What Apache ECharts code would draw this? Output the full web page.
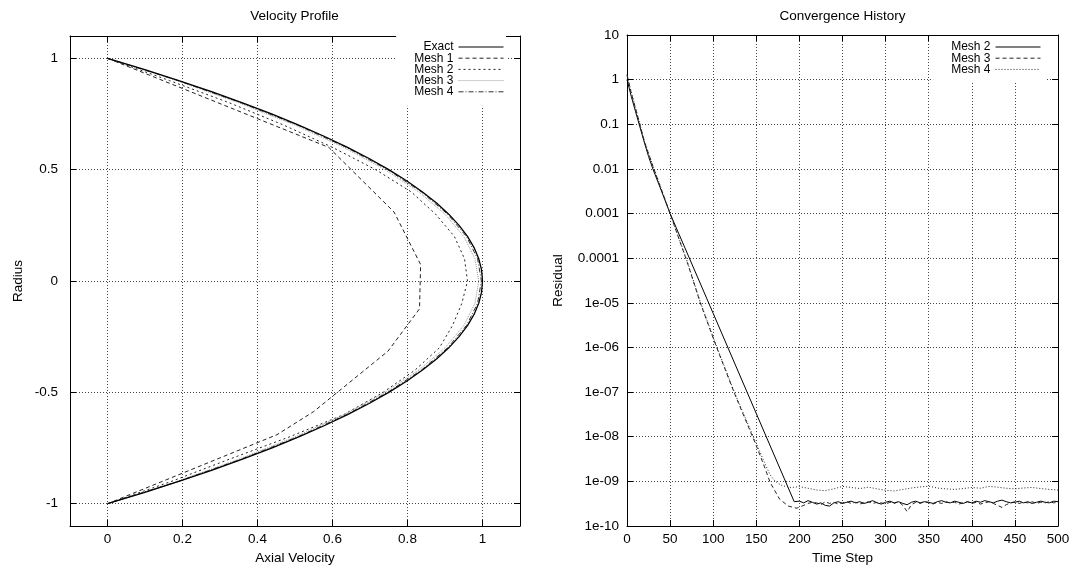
<!DOCTYPE html>
<html>
<head>
<meta charset="utf-8">
<script src="https://cdn.jsdelivr.net/npm/echarts@6/dist/echarts.min.js"></script>
<style>html,body{margin:0;padding:0;background:#fff}#c{width:1076px;height:573px}</style>
</head>
<body>
<div id="c"></div>
<script>
// ---------- Left chart: Velocity Profile ----------
const leftXTicks = [0, 0.2, 0.4, 0.6, 0.8, 1];
const leftYTicks = [-1, -0.5, 0, 0.5, 1];

const exactR = [1,0.95,0.9,0.85,0.8,0.75,0.7,0.65,0.6,0.55,0.5,0.45,0.4,0.35,0.3,0.25,0.2,0.15,0.1,0.05,0,
  -0.05,-0.1,-0.15,-0.2,-0.25,-0.3,-0.35,-0.4,-0.45,-0.5,-0.55,-0.6,-0.65,-0.7,-0.75,-0.8,-0.85,-0.9,-0.95,-1];
const exactU = [0,0.0975,0.19,0.2775,0.36,0.4375,0.51,0.5775,0.64,0.6975,0.75,0.7975,0.84,0.8775,0.91,0.9375,0.96,0.9775,0.99,0.9975,1,
  0.9975,0.99,0.9775,0.96,0.9375,0.91,0.8775,0.84,0.7975,0.75,0.6975,0.64,0.5775,0.51,0.4375,0.36,0.2775,0.19,0.0975,0];

const mesh1R = [1, 0.6, 0.31, 0.074, -0.125, -0.315, -0.586, -0.69, -1];
const mesh1U = [0, 0.59, 0.764, 0.835, 0.832, 0.748, 0.55, 0.452, 0];

const meshR = [1,0.9,0.8,0.7,0.6,0.5,0.4,0.3,0.2,0.1,0,-0.1,-0.2,-0.3,-0.4,-0.5,-0.6,-0.7,-0.8,-0.9,-1];
const mesh2U = [0,0.165,0.325,0.47,0.6,0.715,0.81,0.875,0.925,0.952,0.96,0.945,0.92,0.885,0.82,0.735,0.63,0.485,0.325,0.17,0];
const mesh3U = [0,0.185,0.35,0.5,0.63,0.74,0.83,0.9,0.95,0.98,0.99,0.98,0.95,0.9,0.83,0.74,0.63,0.5,0.35,0.185,0];
const mesh4U = [0,0.188,0.357,0.507,0.637,0.747,0.837,0.907,0.957,0.987,0.997,0.987,0.957,0.907,0.837,0.747,0.637,0.507,0.357,0.188,0];

// ---------- Right chart: Convergence History ----------
const rightXTicks = [0,50,100,150,200,250,300,350,400,450,500];
const rightYLabels = ['1e-10','1e-09','1e-08','1e-07','1e-06','1e-05','0.0001','0.001','0.01','0.1','1','10'];

const tailSteps5 = [200,205,210,215,220,225,230,235,240,245,250,255,260,265,270,275,280,285,290,295,
  300,305,310,315,320,325,330,335,340,345,350,355,360,365,370,375,380,385,390,395,
  400,405,410,415,420,425,430,435,440,445,450,455,460,465,470,475,480,485,490,495,500];

const m2Steps = [0,5,10,15,20,25,30,40,50,100,150,194].concat(tailSteps5);
const m2Res = [1,0.42,0.19,0.087,0.04,0.019,0.01,0.0032,0.001,5.8e-6,3.3e-8,3.5e-10,
  3.6e-10,3.3e-10,3.7e-10,3.4e-10,3.1e-10,3.3e-10,2.9e-10,2.8e-10,3.3e-10,3.5e-10,
  3.2e-10,3.4e-10,3.6e-10,3.3e-10,3.5e-10,3.2e-10,3.4e-10,3.7e-10,3.3e-10,3.1e-10,
  3.4e-10,3.6e-10,3.3e-10,3.5e-10,3.2e-10,3.0e-10,3.4e-10,3.6e-10,3.3e-10,3.5e-10,
  3.4e-10,3.2e-10,3.5e-10,3.7e-10,3.4e-10,3.3e-10,3.6e-10,3.4e-10,3.2e-10,3.5e-10,
  3.3e-10,3.6e-10,3.4e-10,3.7e-10,3.5e-10,3.3e-10,3.6e-10,3.8e-10,3.5e-10,3.3e-10,
  3.4e-10,3.6e-10,3.3e-10,3.5e-10,3.2e-10,3.4e-10,3.6e-10,3.4e-10,3.3e-10,3.6e-10,3.5e-10];

const m3Steps = [0,5,10,15,20,30,40,50,60,70,85,104,125,150,160,166,177,187,197].concat(tailSteps5.slice(1));
const m3Res = [1.25,0.5,0.22,0.1,0.042,0.0115,0.0034,0.001,2.8e-4,8e-5,1e-5,1e-6,9e-8,6.3e-9,2e-9,9.5e-10,4e-10,2.8e-10,2.5e-10,
  2.9e-10,3.2e-10,3.4e-10,3.3e-10,3.0e-10,3.5e-10,3.2e-10,3.4e-10,3.1e-10,3.3e-10,
  3.5e-10,3.2e-10,3.4e-10,3.1e-10,3.3e-10,3.5e-10,3.2e-10,3.4e-10,3.3e-10,3.1e-10,
  3.4e-10,3.2e-10,3.5e-10,2.9e-10,2.1e-10,3.0e-10,3.4e-10,3.2e-10,3.5e-10,3.3e-10,
  3.1e-10,3.4e-10,3.2e-10,3.5e-10,3.3e-10,3.4e-10,3.1e-10,3.3e-10,3.5e-10,3.2e-10,
  3.4e-10,3.1e-10,3.3e-10,3.5e-10,3.2e-10,2.9e-10,2.6e-10,3.0e-10,3.3e-10,3.5e-10,
  3.2e-10,3.4e-10,3.3e-10,3.5e-10,3.2e-10,3.4e-10,3.3e-10,3.5e-10,3.3e-10,3.4e-10];

const m4Steps = [0,5,10,15,20,30,40,50,60,70,85,104,125,150,160,166,172,180,190,
  200,210,220,230,240,250,260,270,280,290,300,310,320,330,340,350,360,370,380,390,400,
  410,420,430,440,450,460,470,480,490,500];
const m4Res = [1.3,0.52,0.23,0.1,0.043,0.012,0.0035,0.001,2.9e-4,8.3e-5,1.05e-5,1.05e-6,9.5e-8,7e-9,2.5e-9,1.4e-9,1e-9,8e-10,7.3e-10,
  7.6e-10,7.0e-10,6.4e-10,6.2e-10,6.8e-10,7.7e-10,7.3e-10,6.9e-10,7.4e-10,6.8e-10,6.3e-10,
  6.1e-10,6.6e-10,7.1e-10,7.5e-10,7.8e-10,7.1e-10,6.8e-10,6.6e-10,6.9e-10,7.3e-10,
  7.0e-10,7.7e-10,7.4e-10,7.0e-10,6.8e-10,7.1e-10,7.3e-10,6.9e-10,6.6e-10,6.4e-10];

function pairs(xs, ys) { return xs.map((x, i) => [x, ys[i]]); }

const FONT = 'Liberation Sans';
const FS = 13.5;
const gridLine = { show: true, lineStyle: { type: [1, 2], color: '#444', width: 1 } };
const axisLine = { show: true, onZero: false, lineStyle: { color: '#000', width: 1 } };
const tickIn = (vals) => ({ show: true, inside: true, length: 6, lineStyle: { color: '#000' }, customValues: vals });
const lbl = { color: '#000', fontSize: FS, fontFamily: FONT };

const chart = echarts.init(document.getElementById('c'), null, { renderer: 'canvas' });

const legendName = { 'R2': 'Mesh 2', 'R3': 'Mesh 3', 'R4': 'Mesh 4' };
const legendBase = {
  orient: 'vertical', align: 'right', itemWidth: 45, itemHeight: 10, itemGap: -0.8,
  backgroundColor: '#fff', selectedMode: false,
  itemStyle: { opacity: 0 },
  lineStyle: { width: 1 },
  textStyle: { fontSize: 12, lineHeight: 10, color: '#000', fontFamily: FONT }
};

chart.setOption({
  animation: false,
  backgroundColor: '#fff',
  textStyle: { fontFamily: FONT },
  title: [
    { text: 'Velocity Profile', left: 294.5, top: 9, textAlign: 'center', padding: 0,
      textStyle: { fontSize: FS, fontWeight: 'normal', color: '#000', fontFamily: FONT } },
    { text: 'Convergence History', left: 842.5, top: 9, textAlign: 'center', padding: 0,
      textStyle: { fontSize: FS, fontWeight: 'normal', color: '#000', fontFamily: FONT } }
  ],
  legend: [
    Object.assign({}, legendBase, { right: 570, top: 36, padding: [5, 2, 8, 18],
      data: ['Exact', 'Mesh 1', 'Mesh 2', 'Mesh 3', 'Mesh 4'] }),
    Object.assign({}, legendBase, { right: 31, top: 36, padding: [5, 4, 6, 18],
      formatter: (n) => legendName[n] || n,
      data: ['R2', 'R3', 'R4'] })
  ],
  grid: [
    { left: 70, top: 36, width: 450, height: 490, containLabel: false },
    { left: 627, top: 35, width: 431, height: 491, containLabel: false }
  ],
  xAxis: [
    { gridIndex: 0, type: 'value', min: -0.1, max: 1.1, position: 'bottom',
      name: 'Axial Velocity', nameLocation: 'middle', nameGap: 23, nameTextStyle: lbl,
      axisLine: axisLine, axisTick: tickIn(leftXTicks), splitLine: gridLine,
      axisLabel: Object.assign({ customValues: leftXTicks, margin: 6, formatter: (v) => String(v) }, lbl) },
    { gridIndex: 0, type: 'value', min: -0.1, max: 1.1, position: 'top',
      axisLine: axisLine, axisTick: tickIn(leftXTicks), splitLine: { show: false },
      axisLabel: { show: false, customValues: leftXTicks } },
    { gridIndex: 1, type: 'value', min: 0, max: 500, interval: 50, position: 'bottom',
      name: 'Time Step', nameLocation: 'middle', nameGap: 23, nameTextStyle: lbl,
      axisLine: axisLine, axisTick: { show: true, inside: true, length: 6, lineStyle: { color: '#000' } },
      splitLine: gridLine, axisLabel: Object.assign({ margin: 6, showMinLabel: true, showMaxLabel: true }, lbl) },
    { gridIndex: 1, type: 'value', min: 0, max: 500, interval: 50, position: 'top',
      axisLine: axisLine, axisTick: { show: true, inside: true, length: 6, lineStyle: { color: '#000' } },
      splitLine: { show: false }, axisLabel: { show: false } }
  ],
  yAxis: [
    { gridIndex: 0, type: 'value', min: -1.1, max: 1.1, position: 'left',
      name: 'Radius', nameLocation: 'middle', nameGap: 45, nameTextStyle: lbl,
      axisLine: axisLine, axisTick: tickIn(leftYTicks), splitLine: gridLine,
      axisLabel: Object.assign({ customValues: leftYTicks, margin: 12, formatter: (v) => String(v) }, lbl) },
    { gridIndex: 0, type: 'value', min: -1.1, max: 1.1, position: 'right',
      axisLine: axisLine, axisTick: tickIn(leftYTicks), splitLine: { show: false },
      axisLabel: { show: false, customValues: leftYTicks } },
    { gridIndex: 1, type: 'log', logBase: 10, min: 1e-10, max: 10, interval: 1, position: 'left',
      name: 'Residual', nameLocation: 'middle', nameGap: 62, nameTextStyle: lbl,
      axisLine: axisLine, axisTick: { show: true, inside: true, length: 6, lineStyle: { color: '#000' } },
      splitLine: gridLine, minorTick: { show: false },
      axisLabel: Object.assign({ margin: 8, showMinLabel: true, showMaxLabel: true,
        formatter: (v) => rightYLabels[Math.round(Math.log10(v)) + 10] }, lbl) },
    { gridIndex: 1, type: 'log', logBase: 10, min: 1e-10, max: 10, interval: 1, position: 'right',
      axisLine: axisLine, axisTick: { show: true, inside: true, length: 6, lineStyle: { color: '#000' } },
      splitLine: { show: false }, axisLabel: { show: false } }
  ],
  series: [
    { name: 'Exact', type: 'line', xAxisIndex: 0, yAxisIndex: 0, symbol: 'none', z: 5,
      lineStyle: { color: '#000', width: 1.3, type: 'solid' }, itemStyle: { color: '#000' },
      data: pairs(exactU, exactR) },
    { name: 'Mesh 1', type: 'line', xAxisIndex: 0, yAxisIndex: 0, symbol: 'none',
      lineStyle: { color: '#222', width: 1, type: [4, 3] }, itemStyle: { color: '#222' },
      data: pairs(mesh1U, mesh1R) },
    { name: 'Mesh 2', type: 'line', xAxisIndex: 0, yAxisIndex: 0, symbol: 'none',
      lineStyle: { color: '#222', width: 1, type: [2, 3] }, itemStyle: { color: '#222' },
      data: pairs(mesh2U, meshR) },
    { name: 'Mesh 3', type: 'line', xAxisIndex: 0, yAxisIndex: 0, symbol: 'none',
      lineStyle: { color: '#999', width: 1, type: [1, 1] }, itemStyle: { color: '#999' },
      data: pairs(mesh3U, meshR) },
    { name: 'Mesh 4', type: 'line', xAxisIndex: 0, yAxisIndex: 0, symbol: 'none',
      lineStyle: { color: '#333', width: 1, type: [5, 2, 1, 2] }, itemStyle: { color: '#333' },
      data: pairs(mesh4U, meshR) },

    { name: 'R2', type: 'line', xAxisIndex: 2, yAxisIndex: 2, symbol: 'none',
      lineStyle: { color: '#000', width: 1, type: 'solid' }, itemStyle: { color: '#000' },
      data: pairs(m2Steps, m2Res) },
    { name: 'R3', type: 'line', xAxisIndex: 2, yAxisIndex: 2, symbol: 'none',
      lineStyle: { color: '#222', width: 1, type: [4, 3] }, itemStyle: { color: '#222' },
      data: pairs(m3Steps, m3Res) },
    { name: 'R4', type: 'line', xAxisIndex: 2, yAxisIndex: 2, symbol: 'none',
      lineStyle: { color: '#222', width: 1, type: [1, 2] }, itemStyle: { color: '#222' },
      data: pairs(m4Steps, m4Res) }
  ]
});
</script>
</body>
</html>
